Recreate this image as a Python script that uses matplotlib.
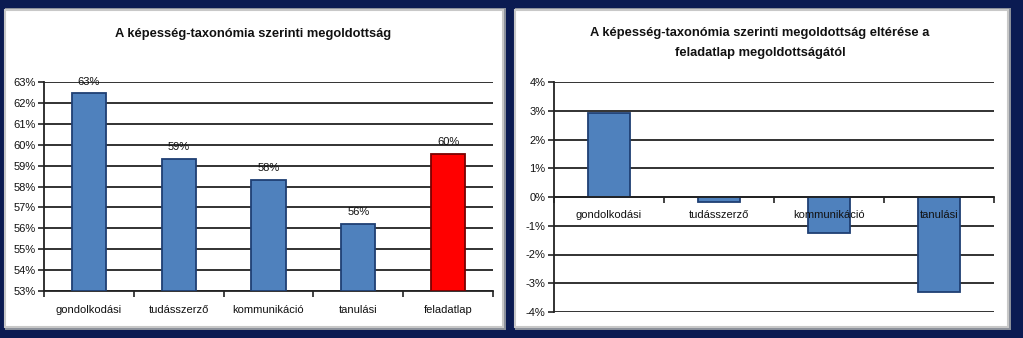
import matplotlib
matplotlib.use("Agg")
from matplotlib import pyplot as plt
from matplotlib.patches import Rectangle
import numpy as np

plt.rcParams['font.family'] = ['Liberation Sans Narrow', 'Liberation Sans', 'DejaVu Sans']

# Data
categories = ['gondolkodási', 'tudásszerző', 'kommunikáció', 'tanulási', 'feladatlap']
solved = [62.45, 59.32, 58.31, 56.2, 59.55]
solved_labels = ['63%', '59%', '58%', '56%', '60%']
diff_categories = ['gondolkodási', 'tudásszerző', 'kommunikáció', 'tanulási']
diff_values = [2.92, -0.18, -1.24, -3.3]

title_left = 'A képesség-taxonómia szerinti megoldottság'
title_right = 'A képesség-taxonómia szerinti megoldottság eltérése a\nfeladatlap megoldottságától'

blue = '#4f81bd'
blue_edge = '#1f3f73'
red = '#ff0000'
navy = '#0b1b52'
ink = '#111111'

W, H = 1023, 338
fig = plt.figure(figsize=(W / 100, H / 100), dpi=100)
fig.patch.set_facecolor(navy)

# white panels with grey shadow
for (x0, x1) in [(5, 503), (515, 1008)]:
    fig.patches.append(Rectangle((x0 / W, 1 - 330 / H), (x1 - x0 + 3) / W, 322 / H,
                                 transform=fig.transFigure, facecolor='#8a8f99',
                                 edgecolor='none', zorder=-2))
    fig.patches.append(Rectangle((x0 / W, 1 - 327 / H), (x1 - x0) / W, 317 / H,
                                 transform=fig.transFigure, facecolor='white',
                                 edgecolor='#c8c8c8', linewidth=1.5, zorder=-1))


def style_axes(ax):
    ax.set_facecolor('none')
    for s in ['top', 'right']:
        ax.spines[s].set_visible(False)
    for s in ['left', 'bottom']:
        ax.spines[s].set_color('#222222')
        ax.spines[s].set_linewidth(1.3)
    ax.yaxis.grid(True, color='#222222', linewidth=1.3)
    ax.set_axisbelow(True)
    ax.tick_params(axis='y', length=4, width=1.2, color='#222222', labelsize=8,
                   pad=2, labelcolor=ink)
    ax.tick_params(axis='x', which='major', length=4, width=1.2, color='#222222', labelbottom=False)
    ax.tick_params(axis='x', which='minor', length=0, labelsize=8, labelcolor=ink)


# left chart
ax1 = fig.add_axes([44 / W, 1 - 291 / H, 449 / W, 209 / H])
style_axes(ax1)
x = np.arange(len(categories))
colors = [blue] * (len(categories) - 1) + [red]
edges = [blue_edge] * (len(categories) - 1) + ['#7a0000']
ax1.bar(x, np.array(solved) - 53, bottom=53, width=0.38, color=colors,
        edgecolor=edges, linewidth=1.3, zorder=3)
ax1.set_ylim(53, 63)
ax1.set_xlim(-0.5, len(categories) - 0.5)
ax1.set_yticks(np.arange(53, 64, 1))
ax1.set_yticklabels([f'{v}%' for v in range(53, 64)])
ax1.set_xticks(np.arange(-0.5, len(categories), 1))
ax1.set_xticks(x, minor=True)
ax1.set_xticklabels(categories, minor=True)
ax1.tick_params(axis='x', which='minor', pad=10)
for xi, v, lab in zip(x, solved, solved_labels):
    ax1.annotate(lab, (xi, v), xytext=(0, 5), textcoords='offset points',
                 ha='center', va='bottom', fontsize=8, color=ink, annotation_clip=False)
fig.text(253 / W, 1 - 34 / H, title_left, ha='center', va='center',
         fontsize=9.3, fontweight='bold', color=ink)

# right chart
ax2 = fig.add_axes([554 / W, 1 - 312 / H, 440 / W, 230 / H])
style_axes(ax2)
x2 = np.arange(len(diff_categories))
ax2.bar(x2, diff_values, width=0.39, color=blue, edgecolor=blue_edge,
        linewidth=1.3, zorder=2)
ax2.set_ylim(-4, 4)
ax2.set_xlim(-0.5, len(diff_categories) - 0.5)
ax2.set_yticks(np.arange(-4, 5, 1))
ax2.set_yticklabels([f'{v}%' for v in range(-4, 5)])
ax2.spines['bottom'].set_position(('data', 0))
ax2.set_xticks(np.arange(-0.5, len(diff_categories), 1))
ax2.set_xticks(x2, minor=True)
ax2.set_xticklabels(diff_categories, minor=True)
ax2.tick_params(axis='x', which='minor', pad=9)
ax2.xaxis.set_zorder(4)  # category names sit on top of the bars
fig.text(760 / W, 1 - 43 / H, title_right, ha='center', va='center',
         fontsize=9.3, fontweight='bold', linespacing=1.8, color=ink)

fig.savefig('out.png', dpi=100, facecolor=fig.get_facecolor())
